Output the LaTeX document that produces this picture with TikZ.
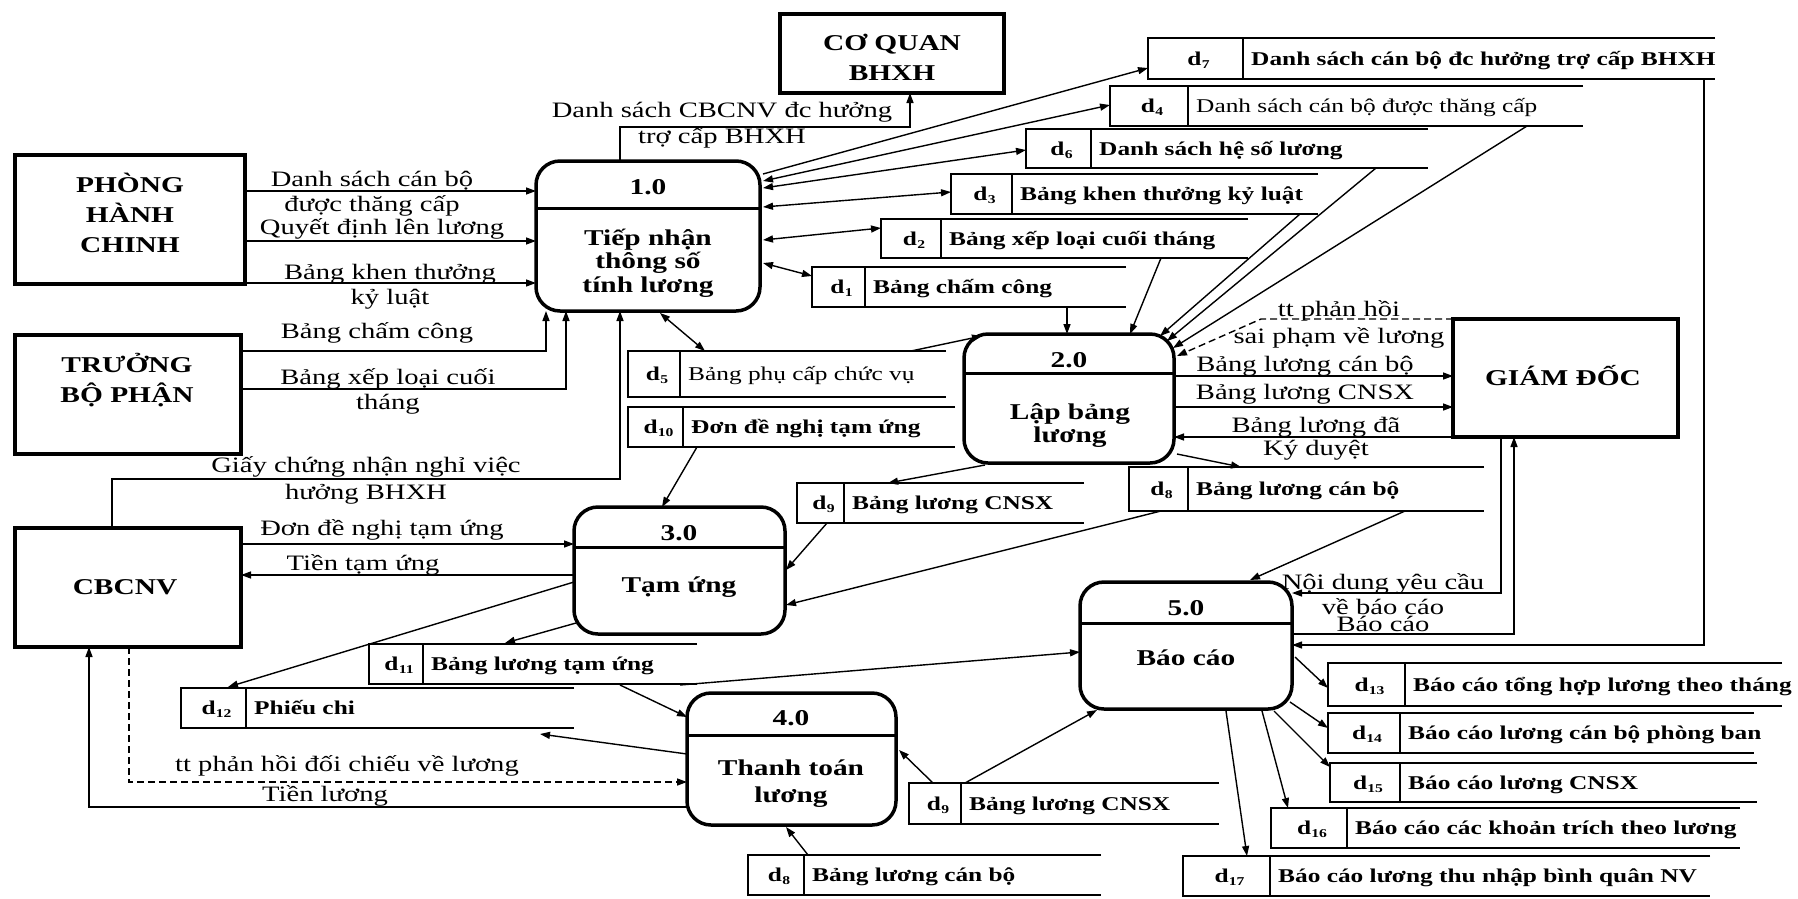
\documentclass[tikz,border=0pt]{standalone}
\usepackage{fontspec}
\setmainfont{Liberation Serif}[FakeStretch=1.3]
\usetikzlibrary{arrows.meta}

% store id: bold d with a small lowered number
\newcommand\sid[1]{d\kern0.3pt\raisebox{-3pt}{\fontsize{12}{12}\selectfont #1}}
% data store: name, left, top, divider x, right, bottom, id, text, text style
\newcommand\dstore[9]{%
  \node[storebox,minimum width={(#5-#2)*1pt},minimum height={(#6-#3)*1pt},anchor=north west] (#1) at (#2,#3) {};
  \draw[sline] (#1.north east) -- (#1.north west) -- (#1.south west) -- (#1.south east);
  \draw[sline] (#4,#3) -- (#4,#6);
  \node[stext,anchor=center] (#1-id) at ({(#2+#4)/2+3},{(#3+#6)/2}) {\sid{#7}};
  \node[#9] (#1-txt) at ({#4+8},{(#3+#6)/2}) {#8};
}
% process: name, left, top, width, height, header depth
\newcommand\proc[6]{%
  \node[procbox,minimum width=#4pt,minimum height=#5pt,anchor=north west] (#1) at (#2,#3) {};
  \draw[pline] ([shift={(0,#6)}]#1.north west) -- ([shift={(0,#6)}]#1.north east);
}

\begin{document}
\begin{tikzpicture}[x=1pt,y=-1pt,
  entbox/.style={draw,line width=3.5pt,inner sep=0,outer sep=0},
  procbox/.style={draw,line width=3.5pt,rounded corners=24pt,inner sep=0,outer sep=0},
  pline/.style={line width=3pt},
  storebox/.style={inner sep=0,outer sep=0},
  sline/.style={line width=1.8pt},
  etext/.style={font=\fontsize{22.6}{30}\selectfont\bfseries,align=center,anchor=base,inner sep=0},
  ptext/.style={font=\fontsize{22.6}{23.5}\selectfont\bfseries,align=center,anchor=base,inner sep=0},
  lbl/.style={font=\fontsize{22}{25}\selectfont,align=center,anchor=base,inner sep=0},
  stext/.style={font=\fontsize{19.5}{22}\selectfont\bfseries,anchor=west,inner sep=0,text height=13pt,text depth=0pt},
  stextr/.style={stext,font=\fontsize{19.5}{22}\selectfont\mdseries},
  flow/.style={line width=1.4pt,-{Triangle[length=10pt,width=7pt]}},
  flow2/.style={line width=1.4pt,{Triangle[length=10pt,width=7pt]}-{Triangle[length=10pt,width=7pt]}},
  fdash/.style={flow,dash pattern=on 7pt off 4pt},
]
\useasboundingbox (0,0) rectangle (1798,898);
% (multi-line texts are placed by the baseline of their last line)

% ---------- external entities
\node[entbox,minimum width=230pt,minimum height=129pt,anchor=north west] (phc) at (15,155) {};
\node[etext] (phc-t) at (130,252.5) {PHÒNG\\HÀNH\\CHINH};
\node[entbox,minimum width=224pt,minimum height=79pt,anchor=north west] (cq) at (780,14) {};
\node[etext] (cq-t) at (892,80.5) {CƠ QUAN\\BHXH};
\node[entbox,minimum width=226pt,minimum height=119pt,anchor=north west] (tbp) at (15,335) {};
\node[etext] (tbp-t) at (127,402.5) {TRƯỞNG\\BỘ PHẬN};
\node[entbox,minimum width=226pt,minimum height=119pt,anchor=north west] (cb) at (15,528) {};
\node[etext] (cb-t) at (125,594.5) {CBCNV};
\node[entbox,minimum width=225pt,minimum height=118pt,anchor=north west] (gd) at (1453,319) {};
\node[etext] (gd-t) at (1563,385.5) {GIÁM ĐỐC};

% ---------- processes
\proc{p1}{536}{161}{224}{150}{47}
\node[ptext] (p1-n) at (648,194.5) {1.0};
\node[ptext] (p1-t) at (648,292) {Tiếp nhận\\thông số\\tính lương};
\proc{p2}{964}{334}{210}{129}{39}
\node[ptext] (p2-n) at (1069,367.5) {2.0};
\node[ptext,font=\fontsize{22.6}{23}\selectfont\bfseries] (p2-t) at (1070,442) {Lập bảng\\lương};
\proc{p3}{574}{507}{211}{127}{40}
\node[ptext] (p3-n) at (679,540.5) {3.0};
\node[ptext] (p3-t) at (679,592) {Tạm ứng};
\proc{p4}{687}{693}{209}{132}{42}
\node[ptext] (p4-n) at (791,725.5) {4.0};
\node[ptext,font=\fontsize{22.6}{27}\selectfont\bfseries] (p4-t) at (791,802) {Thanh toán\\lương};
\proc{p5}{1080}{582}{212}{127}{41}
\node[ptext] (p5-n) at (1186,615.5) {5.0};
\node[ptext] (p5-t) at (1186,665) {Báo cáo};

% ---------- data stores
\dstore{d7}{1148}{38}{1243}{1715}{79}{7}{Danh sách cán bộ đc hưởng trợ cấp BHXH}{stext}
\dstore{d4}{1110}{86}{1188}{1583}{126}{4}{Danh sách cán bộ được thăng cấp}{stextr}
\dstore{d6}{1026}{129}{1091}{1428}{168}{6}{Danh sách hệ số lương}{stext}
\dstore{d3}{951}{174}{1012}{1318}{214}{3}{Bảng khen thưởng kỷ luật}{stext}
\dstore{d2}{881}{219}{941}{1248}{258}{2}{Bảng xếp loại cuối tháng}{stext}
\dstore{d1}{812}{267}{865}{1126}{307}{1}{Bảng chấm công}{stext}
\dstore{d5}{628}{351}{680}{946}{397}{5}{Bảng phụ cấp chức vụ}{stextr}
\dstore{d10}{628}{407}{683}{955}{447}{10}{Đơn đề nghị tạm ứng}{stext}
\dstore{d9a}{797}{483}{844}{1084}{523}{9}{Bảng lương CNSX}{stext}
\dstore{d8a}{1129}{467}{1188}{1484}{511}{8}{Bảng lương cán bộ}{stext}
\dstore{d11}{369}{644}{423}{697}{684}{11}{Bảng lương tạm ứng}{stext}
\dstore{d12}{181}{688}{246}{574}{728}{12}{Phiếu chi}{stext}
\dstore{d9b}{909}{783}{961}{1219}{824}{9}{Bảng lương CNSX}{stext}
\dstore{d8b}{748}{855}{804}{1101}{895}{8}{Bảng lương cán bộ}{stext}
\dstore{d13}{1328}{663}{1405}{1782}{706}{13}{Báo cáo tổng hợp lương theo tháng}{stext}
\dstore{d14}{1328}{713}{1400}{1754}{753}{14}{Báo cáo lương cán bộ phòng ban}{stext}
\dstore{d15}{1330}{763}{1400}{1757}{802}{15}{Báo cáo lương CNSX}{stext}
\dstore{d16}{1271}{808}{1347}{1740}{848}{16}{Báo cáo các khoản trích theo lương}{stext}
\dstore{d17}{1183}{856}{1270}{1710}{896}{17}{Báo cáo lương thu nhập bình quân NV}{stext}

% ---------- flows into 1.0
\draw[flow] ([shift={(0,36)}]phc.north east) -- ([shift={(0,30)}]p1.north west);
\node[lbl] (l1) at (372,211) {Danh sách cán bộ\\được thăng cấp};
\draw[flow] ([shift={(0,86)}]phc.north east) -- ([shift={(0,80)}]p1.north west);
\node[lbl] (l2) at (382,234) {Quyết định lên lương};
\draw[flow] ([shift={(0,128)}]phc.north east) -- ([shift={(0,122)}]p1.north west);
\node[lbl] (l3) at (390,304) {Bảng khen thưởng\\kỷ luật};
\draw[flow] ([shift={(0,16)}]tbp.north east) -| ([shift={(10,0)}]p1.south west);
\node[lbl] (l4) at (377,338) {Bảng chấm công};
\draw[flow] ([shift={(0,54)}]tbp.north east) -| ([shift={(30,0)}]p1.south west);
\node[lbl] (l5) at (388,409) {Bảng xếp loại cuối\\tháng};
\draw[flow] ([shift={(97,0)}]cb.north west) |- ([shift={(84,168)}]p1.south west) -- ([shift={(84,0)}]p1.south west);
\node[lbl,font=\fontsize{22}{27}\selectfont] (l6) at (366,499) {Giấy chứng nhận nghỉ việc\\hưởng BHXH};

% ---------- 1.0 to BHXH and to its stores
\draw[flow] ([shift={(84,0)}]p1.north west) |- ([shift={(130,34)}]cq.south west) -- ([shift={(130,0)}]cq.south west);
\node[lbl,font=\fontsize{22}{26}\selectfont] (l7) at (722,143) {Danh sách CBCNV đc hưởng\\trợ cấp BHXH};
\draw[flow]  ([shift={(3,13)}]p1.north east) -- ([shift={(0,30)}]d7.north west);
\draw[flow2] ([shift={(3,20)}]p1.north east) -- ([shift={(0,19)}]d4.north west);
\draw[flow2] ([shift={(3,27)}]p1.north east) -- ([shift={(0,21)}]d6.north west);
\draw[flow2] ([shift={(3,46)}]p1.north east) -- ([shift={(0,18)}]d3.north west);
\draw[flow2] ([shift={(3,79)}]p1.north east) -- ([shift={(0,9)}]d2.north west);
\draw[flow2] ([shift={(3,102)}]p1.north east) -- ([shift={(0,9)}]d1.north west);
\draw[flow2] ([shift={(124,2)}]p1.south west) -- ([shift={(77,0)}]d5.north west);

% ---------- into 2.0
\draw[flow] ([shift={(283,0)}]d5.north west) -- ([shift={(18,2)}]p2.north west);
\draw[flow] ([shift={(255,0)}]d1.south west) -- ([shift={(103,0)}]p2.north west);
\draw[flow] ([shift={(280,0)}]d2.south west) -- ([shift={(166,0)}]p2.north west);
\draw[flow] ([shift={(349,0)}]d3.south west) -- ([shift={(-14,2)}]p2.north east);
\draw[flow] ([shift={(350,0)}]d6.south west) -- ([shift={(-7,7)}]p2.north east);
\draw[flow] ([shift={(417,0)}]d4.south west) -- ([shift={(-1,14)}]p2.north east);
\draw[fdash] (gd.north west) -- ([shift={(-192,0)}]gd.north west) -- ([shift={(3,22)}]p2.north east);
\node[lbl,font=\fontsize{22}{27}\selectfont] (l8) at (1339,343) {tt phản hồi\\sai phạm về lương};

% ---------- 2.0 and the director
\draw[flow] ([shift={(0,42)}]p2.north east) -- ([shift={(0,57)}]gd.north west);
\node[lbl] (l9) at (1305,371) {Bảng lương cán bộ};
\draw[flow] ([shift={(0,73)}]p2.north east) -- ([shift={(0,88)}]gd.north west);
\node[lbl] (l10) at (1305,399) {Bảng lương CNSX};
\draw[flow] (gd.south west) -- ([shift={(0,103)}]p2.north east);
\node[lbl,font=\fontsize{22}{23}\selectfont] (l11) at (1316,455) {Bảng lương đã\\Ký duyệt};
\draw[flow] ([shift={(3,120)}]p2.north east) -- ([shift={(112,0)}]d8a.north west);
\draw[flow] ([shift={(21,2)}]p2.south west) -- ([shift={(91,0)}]d9a.north west);

% ---------- 3.0
\draw[flow] ([shift={(69,0)}]d10.south west) -- ([shift={(88,0)}]p3.north west);
\draw[flow] ([shift={(30,0)}]d9a.south west) -- ([shift={(1,63)}]p3.north east);
\draw[flow] ([shift={(32,0)}]d8a.south west) -- ([shift={(1,98)}]p3.north east);
\draw[flow] ([shift={(276,0)}]d8a.south west) -- ([shift={(170,-2)}]p5.north west);
\draw[flow] ([shift={(0,16)}]cb.north east) -- ([shift={(0,37)}]p3.north west);
\node[lbl] (l12) at (382,535) {Đơn đề nghị tạm ứng};
\draw[flow] ([shift={(0,68)}]p3.north west) -- ([shift={(0,47)}]cb.north east);
\node[lbl] (l13) at (363,570) {Tiền tạm ứng};
\draw[flow] ([shift={(0,75)}]p3.north west) -- ([shift={(47,-1)}]d12.north west);
\draw[flow] ([shift={(2,-11)}]p3.south west) -- ([shift={(136,-1)}]d11.north west);

% ---------- 4.0
\draw[flow] ([shift={(251,1)}]d11.south west) -- ([shift={(0,24)}]p4.north west);
\draw[flow] ([shift={(311,1)}]d11.south west) -- ([shift={(0,70)}]p5.north west);
\draw[flow] ([shift={(0,61)}]p4.north west) -- ([shift={(359,6)}]d12.south west);
\draw[fdash] ([shift={(114,0)}]cb.south west) |- ([shift={(0,89)}]p4.north west);
\node[lbl] (l14) at (347,771) {tt phản hồi đối chiếu về lương};
\draw[flow] ([shift={(0,114)}]p4.north west) -| ([shift={(74,0)}]cb.south west);
\node[lbl] (l15) at (325,801) {Tiền lương};
\draw[flow] ([shift={(24,0)}]d9b.north west) -- ([shift={(3,57)}]p4.north east);
\draw[flow] ([shift={(56,0)}]d9b.north west) -- ([shift={(17,1)}]p5.south west);
\draw[flow] ([shift={(60,0)}]d8b.north west) -- ([shift={(99,2)}]p4.south west);

% ---------- 5.0
\draw[flow] ([shift={(48,0)}]gd.south west) |- ([shift={(0,11)}]p5.north east);
\node[lbl] (l16) at (1383,614) {Nội dung yêu cầu\\về báo cáo};
\draw[flow] ([shift={(0,52)}]p5.north east) -| ([shift={(61,0)}]gd.south west);
\node[lbl] (l17) at (1383,631) {Báo cáo};
\draw[flow] ([shift={(556,0)}]d7.south west) |- ([shift={(0,63)}]p5.north east);
\draw[flow] ([shift={(3,75)}]p5.north east) -- ([shift={(0,25)}]d13.north west);
\draw[flow] ([shift={(-2,120)}]p5.north east) -- ([shift={(0,15)}]d14.north west);
\draw[flow] ([shift={(-18,2)}]p5.south east) -- ([shift={(0,4)}]d15.north west);
\draw[flow] ([shift={(-30,2)}]p5.south east) -- ([shift={(17,0)}]d16.north west);
\draw[flow] ([shift={(-66,2)}]p5.south east) -- ([shift={(64,0)}]d17.north west);
\end{tikzpicture}
\end{document}
